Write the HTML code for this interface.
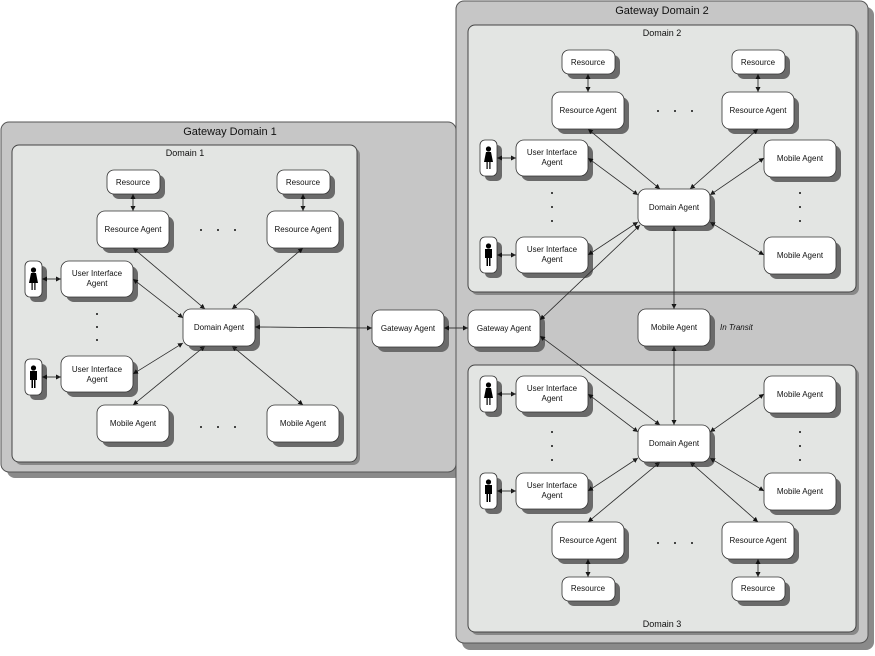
<!DOCTYPE html>
<html><head><meta charset="utf-8"><style>
html,body{margin:0;padding:0;background:#fff;}
svg text{font-family:"Liberation Sans",sans-serif;font-size:8px;fill:#111;text-anchor:middle;}
</style></head><body>
<svg width="875" height="651" viewBox="0 0 875 651" xmlns="http://www.w3.org/2000/svg">
<defs>
<marker id="a" markerWidth="6" markerHeight="6" refX="5" refY="3" orient="auto" markerUnits="userSpaceOnUse"><path d="M0,0.5 L5,3 L0,5.5z" fill="#111"/></marker>
<g id="man"><circle cx="8.5" cy="9" r="2.6" fill="#000"/><path d="M5,12 h7 v9 h-1.5 v8 h-1.5 v-8 h-1 v8 h-1.5 v-8 h-1.5z" fill="#000"/></g>
<g id="woman"><circle cx="8.5" cy="9" r="2.6" fill="#000"/><path d="M6,12 h5 l2,10 h-2.5 v7 h-1.2 v-7 h-1.6 v7 h-1.2 v-7 h-2.5z" fill="#000"/></g>
</defs>
<rect x="7" y="128" width="455" height="350" rx="8" fill="#8a8a8a"/>
<rect x="1" y="122" width="455" height="350" rx="8" fill="#c6c6c6" stroke="#555"/>
<text x="230" y="135" style="font-size:11px">Gateway Domain 1</text>
<rect x="462" y="7" width="412" height="643" rx="8" fill="#8a8a8a"/>
<rect x="456" y="1" width="412" height="642" rx="8" fill="#c6c6c6" stroke="#555"/>
<text x="662" y="14" style="font-size:11px">Gateway Domain 2</text>
<rect x="15" y="148" width="345" height="317" rx="7" fill="#888"/>
<rect x="12" y="145" width="345" height="317" rx="7" fill="#e3e5e3" stroke="#444"/>
<text x="185" y="156" style="font-size:9px">Domain 1</text>
<rect x="471" y="28" width="388" height="267" rx="7" fill="#888"/>
<rect x="468" y="25" width="388" height="267" rx="7" fill="#e3e5e3" stroke="#444"/>
<text x="662" y="36" style="font-size:9px">Domain 2</text>
<rect x="471" y="368" width="388" height="267" rx="7" fill="#888"/>
<rect x="468" y="365" width="388" height="267" rx="7" fill="#e3e5e3" stroke="#444"/>
<text x="662" y="627" style="font-size:9px">Domain 3</text>

<g fill="#6a6a6a">
<rect x="112" y="175" width="53" height="24" rx="7"/><rect x="282" y="175" width="53" height="24" rx="7"/>
<rect x="102" y="216" width="72" height="37" rx="8"/><rect x="272" y="216" width="72" height="37" rx="8"/>
<rect x="66" y="266" width="72" height="36" rx="8"/><rect x="66" y="361" width="72" height="36" rx="8"/>
<rect x="30" y="266" width="17" height="36" rx="5"/><rect x="30" y="364" width="17" height="36" rx="5"/>
<rect x="188" y="314" width="72" height="37" rx="8"/>
<rect x="102" y="410" width="72" height="37" rx="8"/><rect x="272" y="410" width="72" height="37" rx="8"/>
<rect x="377" y="315" width="72" height="37" rx="8"/><rect x="473" y="315" width="72" height="37" rx="8"/>
<rect x="643" y="314" width="72" height="37" rx="8"/>
<rect x="567" y="55" width="53" height="24" rx="7"/><rect x="737" y="55" width="53" height="24" rx="7"/>
<rect x="557" y="97" width="72" height="37" rx="8"/><rect x="727" y="97" width="72" height="37" rx="8"/>
<rect x="521" y="145" width="72" height="36" rx="8"/><rect x="521" y="242" width="72" height="36" rx="8"/>
<rect x="485" y="145" width="17" height="36" rx="5"/><rect x="485" y="242" width="17" height="36" rx="5"/>
<rect x="643" y="194" width="72" height="37" rx="8"/>
<rect x="769" y="145" width="72" height="37" rx="8"/><rect x="769" y="242" width="72" height="37" rx="8"/>
<rect x="521" y="381" width="72" height="36" rx="8"/><rect x="521" y="478" width="72" height="36" rx="8"/>
<rect x="485" y="381" width="17" height="36" rx="5"/><rect x="485" y="478" width="17" height="36" rx="5"/>
<rect x="643" y="430" width="72" height="37" rx="8"/>
<rect x="769" y="381" width="72" height="37" rx="8"/><rect x="769" y="478" width="72" height="37" rx="8"/>
<rect x="557" y="527" width="72" height="37" rx="8"/><rect x="727" y="527" width="72" height="37" rx="8"/>
<rect x="567" y="582" width="53" height="24" rx="7"/><rect x="737" y="582" width="53" height="24" rx="7"/>
</g>

<g stroke="#333" stroke-width="0.7" marker-end="url(#a)">
<line x1="133" y1="194" x2="133" y2="211"/><line x1="303" y1="194" x2="303" y2="211"/>
<line x1="133" y1="248" x2="205" y2="309"/><line x1="303" y1="248" x2="232" y2="309"/>
<line x1="133" y1="279" x2="183" y2="318"/><line x1="133" y1="374" x2="183" y2="343"/>
<line x1="133" y1="405" x2="205" y2="346"/><line x1="303" y1="405" x2="232" y2="346"/>
<line x1="42" y1="279" x2="61" y2="279"/><line x1="42" y1="377" x2="61" y2="377"/>
<line x1="255" y1="327" x2="372" y2="328"/><line x1="444" y1="328" x2="468" y2="328"/>
<line x1="540" y1="320" x2="640" y2="225"/><line x1="540" y1="336" x2="660" y2="425"/>
<line x1="674" y1="226" x2="674" y2="309"/><line x1="674" y1="346" x2="674" y2="425"/>
<line x1="588" y1="74" x2="588" y2="92"/><line x1="758" y1="74" x2="758" y2="92"/>
<line x1="588" y1="129" x2="660" y2="189"/><line x1="758" y1="129" x2="690" y2="189"/>
<line x1="588" y1="158" x2="638" y2="195"/><line x1="588" y1="255" x2="638" y2="222"/>
<line x1="764" y1="158" x2="710" y2="195"/><line x1="764" y1="255" x2="710" y2="222"/>
<line x1="497" y1="158" x2="516" y2="158"/><line x1="497" y1="255" x2="516" y2="255"/>
<line x1="588" y1="394" x2="638" y2="432"/><line x1="588" y1="491" x2="638" y2="458"/>
<line x1="764" y1="394" x2="710" y2="432"/><line x1="764" y1="491" x2="710" y2="458"/>
<line x1="588" y1="522" x2="660" y2="462"/><line x1="758" y1="522" x2="690" y2="462"/>
<line x1="497" y1="394" x2="516" y2="394"/><line x1="497" y1="491" x2="516" y2="491"/>
<line x1="588" y1="559" x2="588" y2="577"/><line x1="758" y1="559" x2="758" y2="577"/>
</g>
<g stroke="#333" stroke-width="0.7" marker-end="url(#a)">
<line x2="133" y2="194" x1="133" y1="211"/><line x2="303" y2="194" x1="303" y1="211"/>
<line x2="133" y2="248" x1="205" y1="309"/><line x2="303" y2="248" x1="232" y1="309"/>
<line x2="133" y2="279" x1="183" y1="318"/><line x2="133" y2="374" x1="183" y1="343"/>
<line x2="133" y2="405" x1="205" y1="346"/><line x2="303" y2="405" x1="232" y1="346"/>
<line x2="42" y2="279" x1="61" y1="279"/><line x2="42" y2="377" x1="61" y1="377"/>
<line x2="255" y2="327" x1="372" y1="328"/><line x2="444" y2="328" x1="468" y1="328"/>
<line x2="540" y2="320" x1="640" y1="225"/><line x2="540" y2="336" x1="660" y1="425"/>
<line x2="674" y2="226" x1="674" y1="309"/><line x2="674" y2="346" x1="674" y1="425"/>
<line x2="588" y2="74" x1="588" y1="92"/><line x2="758" y2="74" x1="758" y1="92"/>
<line x2="588" y2="129" x1="660" y1="189"/><line x2="758" y2="129" x1="690" y1="189"/>
<line x2="588" y2="158" x1="638" y1="195"/><line x2="588" y2="255" x1="638" y1="222"/>
<line x2="764" y2="158" x1="710" y1="195"/><line x2="764" y2="255" x1="710" y1="222"/>
<line x2="497" y2="158" x1="516" y1="158"/><line x2="497" y2="255" x1="516" y1="255"/>
<line x2="588" y2="394" x1="638" y1="432"/><line x2="588" y2="491" x1="638" y1="458"/>
<line x2="764" y2="394" x1="710" y1="432"/><line x2="764" y2="491" x1="710" y1="458"/>
<line x2="588" y2="522" x1="660" y1="462"/><line x2="758" y2="522" x1="690" y1="462"/>
<line x2="497" y2="394" x1="516" y1="394"/><line x2="497" y2="491" x1="516" y1="491"/>
<line x2="588" y2="559" x1="588" y1="577"/><line x2="758" y2="559" x1="758" y1="577"/>
</g>

<g fill="#fff" stroke="#333" stroke-width="0.8">
<rect x="107" y="170" width="53" height="24" rx="7"/><rect x="277" y="170" width="53" height="24" rx="7"/>
<rect x="97" y="211" width="72" height="37" rx="8"/><rect x="267" y="211" width="72" height="37" rx="8"/>
<rect x="61" y="261" width="72" height="36" rx="8"/><rect x="61" y="356" width="72" height="36" rx="8"/>
<rect x="25" y="261" width="17" height="36" rx="5"/><rect x="25" y="359" width="17" height="36" rx="5"/>
<rect x="183" y="309" width="72" height="37" rx="8"/>
<rect x="97" y="405" width="72" height="37" rx="8"/><rect x="267" y="405" width="72" height="37" rx="8"/>
<rect x="372" y="310" width="72" height="37" rx="8"/><rect x="468" y="310" width="72" height="37" rx="8"/>
<rect x="638" y="309" width="72" height="37" rx="8"/>
<rect x="562" y="50" width="53" height="24" rx="7"/><rect x="732" y="50" width="53" height="24" rx="7"/>
<rect x="552" y="92" width="72" height="37" rx="8"/><rect x="722" y="92" width="72" height="37" rx="8"/>
<rect x="516" y="140" width="72" height="36" rx="8"/><rect x="516" y="237" width="72" height="36" rx="8"/>
<rect x="480" y="140" width="17" height="36" rx="5"/><rect x="480" y="237" width="17" height="36" rx="5"/>
<rect x="638" y="189" width="72" height="37" rx="8"/>
<rect x="764" y="140" width="72" height="37" rx="8"/><rect x="764" y="237" width="72" height="37" rx="8"/>
<rect x="516" y="376" width="72" height="36" rx="8"/><rect x="516" y="473" width="72" height="36" rx="8"/>
<rect x="480" y="376" width="17" height="36" rx="5"/><rect x="480" y="473" width="17" height="36" rx="5"/>
<rect x="638" y="425" width="72" height="37" rx="8"/>
<rect x="764" y="376" width="72" height="37" rx="8"/><rect x="764" y="473" width="72" height="37" rx="8"/>
<rect x="552" y="522" width="72" height="37" rx="8"/><rect x="722" y="522" width="72" height="37" rx="8"/>
<rect x="562" y="577" width="53" height="24" rx="7"/><rect x="732" y="577" width="53" height="24" rx="7"/>
</g>
<use href="#woman" x="25" y="261"/><use href="#man" x="25" y="359"/>
<use href="#woman" x="480" y="140"/><use href="#man" x="480" y="237"/>
<use href="#woman" x="480" y="376"/><use href="#man" x="480" y="473"/>

<text x="133" y="185">Resource</text><text x="303" y="185">Resource</text>
<text x="133" y="232">Resource Agent</text><text x="303" y="232">Resource Agent</text>
<text x="97" y="276">User Interface</text><text x="97" y="286">Agent</text>
<text x="97" y="372">User Interface</text><text x="97" y="382">Agent</text>
<text x="219" y="330">Domain Agent</text>
<text x="133" y="426">Mobile Agent</text><text x="303" y="426">Mobile Agent</text>
<text x="408" y="331">Gateway Agent</text><text x="504" y="331">Gateway Agent</text>
<text x="674" y="330">Mobile Agent</text>
<text x="720" y="330" style="font-style:italic;text-anchor:start">In Transit</text>
<text x="588" y="65">Resource</text><text x="758" y="65">Resource</text>
<text x="588" y="113">Resource Agent</text><text x="758" y="113">Resource Agent</text>
<text x="552" y="155">User Interface</text><text x="552" y="165">Agent</text>
<text x="552" y="252">User Interface</text><text x="552" y="262">Agent</text>
<text x="674" y="210">Domain Agent</text>
<text x="800" y="161">Mobile Agent</text><text x="800" y="258">Mobile Agent</text>
<text x="552" y="391">User Interface</text><text x="552" y="401">Agent</text>
<text x="552" y="488">User Interface</text><text x="552" y="498">Agent</text>
<text x="674" y="446">Domain Agent</text>
<text x="800" y="397">Mobile Agent</text><text x="800" y="494">Mobile Agent</text>
<text x="588" y="543">Resource Agent</text><text x="758" y="543">Resource Agent</text>
<text x="588" y="591">Resource</text><text x="758" y="591">Resource</text>

<g fill="#111">
<circle cx="201" cy="230" r="1"/><circle cx="218" cy="230" r="1"/><circle cx="235" cy="230" r="1"/>
<circle cx="201" cy="427" r="1"/><circle cx="218" cy="427" r="1"/><circle cx="235" cy="427" r="1"/>
<circle cx="97" cy="314" r="1"/><circle cx="97" cy="327" r="1"/><circle cx="97" cy="340" r="1"/>
<circle cx="658" cy="111" r="1"/><circle cx="675" cy="111" r="1"/><circle cx="692" cy="111" r="1"/>
<circle cx="658" cy="543" r="1"/><circle cx="675" cy="543" r="1"/><circle cx="692" cy="543" r="1"/>
<circle cx="552" cy="193" r="1"/><circle cx="552" cy="207" r="1"/><circle cx="552" cy="221" r="1"/>
<circle cx="800" cy="193" r="1"/><circle cx="800" cy="207" r="1"/><circle cx="800" cy="221" r="1"/>
<circle cx="552" cy="432" r="1"/><circle cx="552" cy="446" r="1"/><circle cx="552" cy="460" r="1"/>
<circle cx="800" cy="432" r="1"/><circle cx="800" cy="446" r="1"/><circle cx="800" cy="460" r="1"/>
</g>
</svg>
</body></html>
